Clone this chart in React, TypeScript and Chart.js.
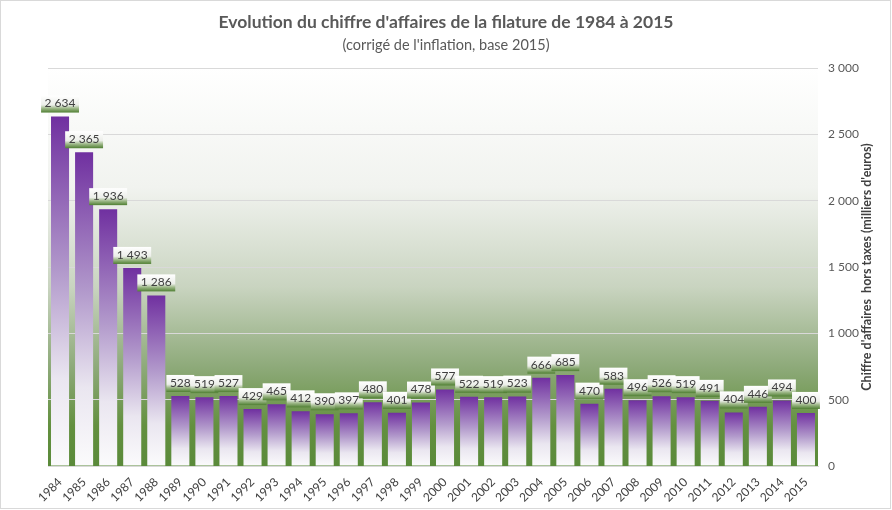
import React, { useEffect, useRef } from "react";
import { Chart, registerables } from "chart.js";

Chart.register(...registerables);

const YEARS = [
  "1984", "1985", "1986", "1987", "1988", "1989", "1990", "1991", "1992", "1993", "1994",
  "1995", "1996", "1997", "1998", "1999", "2000", "2001", "2002", "2003", "2004", "2005",
  "2006", "2007", "2008", "2009", "2010", "2011", "2012", "2013", "2014", "2015",
];
const REVENUE = [
  2634, 2365, 1936, 1493, 1286, 528, 519, 527, 429, 465, 412,
  390, 397, 480, 401, 478, 577, 522, 519, 523, 666, 685,
  470, 583, 496, 526, 519, 491, 404, 446, 494, 400,
];
const TITLE = "Evolution du chiffre d'affaires de la filature de 1984 à 2015";
const SUBTITLE = "(corrigé de l'inflation, base 2015)";
const Y_TITLE = "Chiffre d'affaires  hors taxes (milliers d'euros)";
const Y_MIN = 0;
const Y_MAX = 3000;
const Y_STEP = 500;

const FONT = "Lato, 'Open Sans', sans-serif";
const PURPLE = "#7030a0";

const fmt = (v: number) => {
  const s = Math.round(v).toString();
  return s.replace(/\B(?=(\d{3})+(?!\d))/g, " ");
};

const decorPlugin = {
  id: "decor",
  beforeDraw(chart: any) {
    const { ctx, chartArea: a, width, height } = chart;
    ctx.save();
    ctx.fillStyle = "#ffffff";
    ctx.fillRect(0, 0, width, height);
    const g = ctx.createLinearGradient(0, a.top, 0, a.bottom);
    g.addColorStop(0, "#ffffff");
    g.addColorStop(0.3, "#f1f3ef");
    g.addColorStop(0.55, "#c9d4c0");
    g.addColorStop(0.75, "#8eaa7a");
    g.addColorStop(0.9, "#63903f");
    g.addColorStop(1, "#5a8a3a");
    ctx.fillStyle = g;
    ctx.fillRect(a.left, a.top, a.right - a.left, a.bottom - a.top);
    ctx.restore();
  },
  afterDraw(chart: any) {
    const { ctx, chartArea: a } = chart;
    ctx.save();
    ctx.strokeStyle = "#d9d9d9";
    ctx.lineWidth = 1;
    ctx.strokeRect(0.5, 0.5, 890, 508);
    ctx.fillStyle = "#595959";
    ctx.textAlign = "center";
    ctx.textBaseline = "middle";
    ctx.font = `bold 17.5px ${FONT}`;
    ctx.fillText(TITLE, 446, 22);
    ctx.font = `14.5px ${FONT}`;
    ctx.fillText(SUBTITLE, 446, 45);
    ctx.translate(867, (a.top + a.bottom) / 2);
    ctx.rotate(-Math.PI / 2);
    ctx.font = `bold 12.5px ${FONT}`;
    ctx.fillStyle = "#404040";
    ctx.fillText(Y_TITLE, 0, 0);
    ctx.restore();
  },
  afterDatasetsDraw(chart: any) {
    const { ctx } = chart;
    const meta = chart.getDatasetMeta(0);
    const data = chart.data.datasets[0].data as number[];
    ctx.save();
    ctx.font = `12px ${FONT}`;
    ctx.textAlign = "center";
    ctx.textBaseline = "middle";
    meta.data.forEach((el: any, i: number) => {
      const text = fmt(data[i]);
      const w = ctx.measureText(text).width + 7;
      const h = 17;
      const bottom = el.y - 4;
      const top = bottom - h;
      const left = el.x - w / 2;
      const g = ctx.createLinearGradient(0, top, 0, bottom);
      g.addColorStop(0, "#ffffff");
      g.addColorStop(0.55, "#eceee9");
      g.addColorStop(0.75, "#9fb98a");
      g.addColorStop(1, "#4f7f32");
      ctx.fillStyle = g;
      ctx.fillRect(left, top, w, h);
      ctx.fillStyle = "#404040";
      ctx.fillText(text, el.x, top + 8);
    });
    ctx.restore();
  },
};

export default function App() {
  const ref = useRef<HTMLCanvasElement | null>(null);
  useEffect(() => {
    if (!ref.current) return;
    const chart = new Chart(ref.current, {
      type: "bar",
      data: {
        labels: YEARS,
        datasets: [
          {
            data: REVENUE,
            barPercentage: 0.75,
            categoryPercentage: 1,
            backgroundColor: (c: any) => {
              const chart = c.chart;
              if (!chart.chartArea || c.type !== "data") return PURPLE;
              const ys = chart.scales.y;
              const top = ys.getPixelForValue(c.raw);
              const bottom = ys.getPixelForValue(0);
              const g = chart.ctx.createLinearGradient(0, top, 0, bottom);
              g.addColorStop(0, "#7030a0");
              g.addColorStop(0.45, "#b39bcc");
              g.addColorStop(0.75, "#eae6f0");
              g.addColorStop(1, "#fbfbfc");
              return g;
            },
          },
        ],
      },
      options: {
        responsive: false,
        maintainAspectRatio: false,
        animation: false,
        devicePixelRatio: 1,
        layout: { padding: { left: 48, top: 68, right: 0, bottom: 0 } },
        plugins: {
          legend: { display: false },
          title: { display: false },
          tooltip: { enabled: false },
        },
        scales: {
          x: {
            grid: { display: false, drawTicks: false },
            border: { display: true, color: "#d9d9d9" },
            ticks: {
              color: "#404040",
              font: { family: FONT, size: 12 },
              minRotation: 45,
              maxRotation: 45,
              padding: 9,
              autoSkip: false,
            },
            afterFit: (s: any) => {
              s.height = 44;
            },
          },
          y: {
            position: "right",
            min: Y_MIN,
            max: Y_MAX,
            grid: { color: "#d9d9d9", drawTicks: false },
            border: { display: false },
            ticks: {
              stepSize: Y_STEP,
              color: "#595959",
              font: { family: FONT, size: 12 },
              padding: 10,
              callback: (v: any) => fmt(Number(v)),
            },
            afterFit: (s: any) => {
              s.width = 74;
            },
          },
        },
      },
      plugins: [decorPlugin],
    });
    return () => chart.destroy();
  }, []);
  return (
    <div style={{ position: "absolute", left: 0, top: 0, width: 892, height: 510 }}>
      <canvas ref={ref} width={892} height={510} />
    </div>
  );
}
